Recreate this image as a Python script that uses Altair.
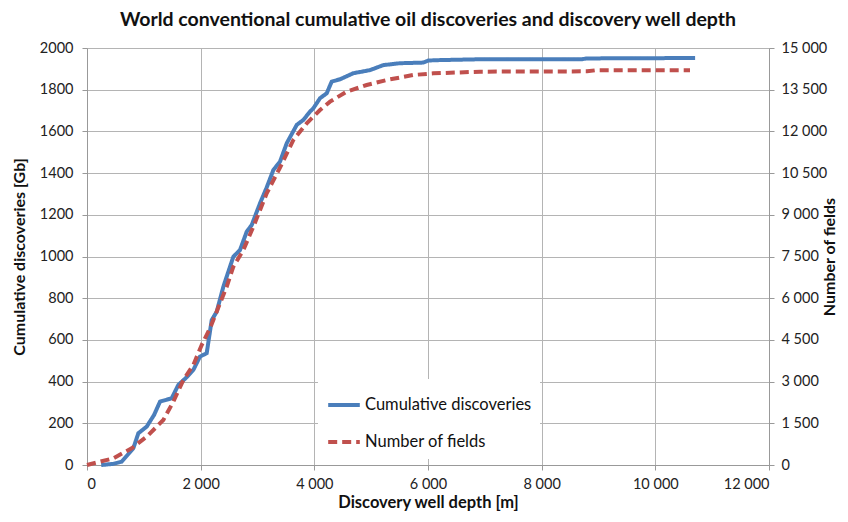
import altair as alt
import pandas as pd

# Cumulative discoveries [Gb] vs discovery well depth [m]
depth_cum = [250, 450, 610, 815, 903, 1050, 1180, 1285, 1490, 1607, 1750, 1871, 1988, 2106,
             2194, 2282, 2399, 2575, 2692, 2810, 2898, 3044, 3160, 3279, 3396, 3514, 3690,
             3807, 3924, 3983, 4100, 4218, 4306, 4452, 4686, 4980, 5214, 5507, 5918, 6006,
             6211, 6915, 8700, 8800, 10700]
cum_gb = [0, 5, 16, 80, 152, 184, 240, 304, 320, 384, 420, 456, 520, 536,
          695, 735, 855, 999, 1031, 1119, 1151, 1255, 1330, 1415, 1455, 1543, 1631,
          1655, 1695, 1711, 1759, 1783, 1839, 1850, 1879, 1894, 1918, 1927, 1930, 1940,
          1942, 1946, 1946, 1950, 1952]

# Number of fields vs discovery well depth [m]
depth_fields = [0, 463, 786, 1050, 1343, 1519, 1695, 1871, 2018, 2164, 2340, 2458, 2575,
                2751, 2927, 3162, 3396, 3631, 3866, 4100, 4276, 4569, 4921, 5273, 5741,
                6093, 6915, 8800, 8950, 10610]
n_fields = [0, 241, 600, 1018, 1619, 2277, 3058, 3597, 4317, 4917, 5816, 6414, 7133,
            7734, 8572, 9773, 10700, 11691, 12291, 12770, 13070, 13429, 13669, 13849, 14029,
            14088, 14149, 14160, 14200, 14200]

series_names = ["Cumulative discoveries", "Number of fields"]
series_colors = ["#4A7EBB", "#C0504D"]

x_ticks = list(range(0, 12001, 2000))
left_ticks = list(range(0, 2001, 200))
right_ticks = list(range(0, 15001, 1500))

df_cum = pd.DataFrame({"depth": depth_cum, "value": cum_gb, "series": series_names[0]})
df_fields = pd.DataFrame({"depth": depth_fields, "value": n_fields, "series": series_names[1]})

FONT = "Lato"
space_expr = "replace(format(datum.value, ','), ',', ' ')"


def make_legend():
    return alt.Legend(
        title=None, orient="none", legendX=231, legendY=331,
        fillColor="white", padding=8, rowPadding=10,
        symbolType="stroke", symbolSize=1000, symbolStrokeWidth=4,
        labelFontSize=16.5, labelFont=FONT, labelColor="#111", labelOffset=3,
        labelLimit=400,
    )


color_enc = alt.Color(
    "series:N",
    scale=alt.Scale(domain=series_names, range=series_colors),
    legend=make_legend(),
)
dash_enc = alt.StrokeDash(
    "series:N",
    scale=alt.Scale(domain=series_names, range=[[1, 0], [9, 5]]),
    legend=make_legend(),
)

x_enc = alt.X(
    "depth:Q",
    scale=alt.Scale(domain=[0, 12000], nice=False),
    axis=alt.Axis(values=x_ticks, labelExpr=space_expr, title="Discovery well depth  [m]",
                  grid=True, titlePadding=4, titleFontSize=16.5),
)

left = alt.Chart(df_cum).mark_line(strokeWidth=4).encode(
    x=x_enc,
    y=alt.Y("value:Q", scale=alt.Scale(domain=[0, 2000], nice=False),
            axis=alt.Axis(values=left_ticks, format="d", title="Cumulative discoveries [Gb]",
                          grid=True, orient="left", titlePadding=12, labelPadding=9)),
    color=color_enc,
    strokeDash=dash_enc,
)

right = alt.Chart(df_fields).mark_line(strokeWidth=4).encode(
    x=x_enc,
    y=alt.Y("value:Q", scale=alt.Scale(domain=[0, 15000], nice=False),
            axis=alt.Axis(values=right_ticks, labelExpr=space_expr, title="Number of fields",
                          grid=False, orient="right", titleAngle=270, titlePadding=11)),
    color=color_enc,
    strokeDash=dash_enc,
)

chart = alt.layer(left, right).resolve_scale(y="independent").properties(
    width=682, height=417,
    autosize=alt.AutoSizeParams(type="none"),
    padding={"left": 79, "top": 40, "right": 71, "bottom": 49},
    title=alt.TitleParams(
        "World conventional cumulative oil discoveries and discovery well depth",
        anchor="middle", fontSize=19.5, font=FONT, fontWeight="bold", color="#111", offset=10,
    ),
).configure_view(stroke=None).configure_axis(
    labelFont=FONT, labelFontSize=14.5, labelColor="#222",
    titleFont=FONT, titleFontSize=16, titleFontWeight="bold", titleColor="#111",
    gridColor="#b4b4b4", gridWidth=1, domainColor="#999", tickColor="#999",
    tickSize=5, labelPadding=7,
)

chart.save("out.html", embed_options={"renderer": "svg", "actions": False})
